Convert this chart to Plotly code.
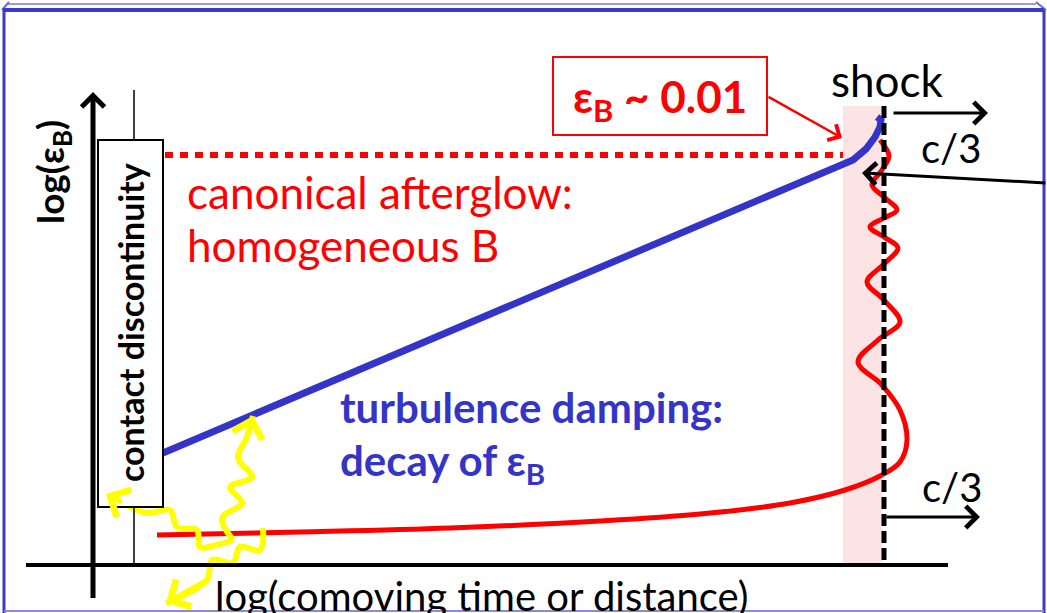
import plotly.graph_objects as go

# schematic coordinates (x to the right, y downwards, 1047 x 613 canvas)
BLUE_X = [163, 853, 866, 875, 880, 881, 877]
BLUE_Y = [453, 160, 149, 137, 127, 120, 117]

RED_X = [157, 300, 450, 600, 700, 790, 845, 880, 900, 907, 900, 882, 858, 878, 900, 884, 867, 884, 898, 884, 870, 884, 897, 884, 872, 882, 889, 880]
RED_Y = [535, 532, 528, 521, 514, 503, 490, 476, 462, 440, 410, 385, 362, 340, 322, 300, 282, 264, 248, 237, 227, 218, 210, 197, 185, 170, 156, 140]

CANON_X = [165, 843]
CANON_Y = [155, 155]

YEL_UP_X = [233, 222, 242, 230, 252, 238, 247, 253]
YEL_UP_Y = [540, 518, 503, 487, 477, 458, 437, 416]
YEL_LEFT_X = [233, 220, 200, 197, 177, 170, 147, 123, 106]
YEL_LEFT_Y = [540, 544, 547, 530, 527, 510, 513, 503, 494]
YEL_DOWN_X = [263, 260, 240, 233, 212, 207, 166]
YEL_DOWN_Y = [528, 550, 547, 563, 560, 580, 603]

FONT = "Lato"
BLUE = "#3434c8"
RED = "#ff0000"

fig = go.Figure()

# pink shock region, dashed shock front
fig.add_shape(type="rect", x0=843, x1=882, y0=106, y1=565, fillcolor="#fce4e4", line_width=0, layer="below")
fig.add_shape(type="line", x0=884, x1=884, y0=106, y1=565, line=dict(color="black", width=5, dash="12px,5px"))

# frame
fig.add_shape(type="line", x0=8, x1=1036, y0=4, y1=4, line=dict(color="#9a9ae6", width=2))
fig.add_shape(type="line", x0=2, x1=9, y0=10, y1=2, line=dict(color="#6a6ad8", width=2))
fig.add_shape(type="line", x0=1036, x1=1046, y0=2, y1=10, line=dict(color="#6a6ad8", width=2))
fig.add_shape(type="line", x0=3, x1=1044, y0=10, y1=10, line=dict(color="#3a3acc", width=4))
fig.add_shape(type="line", x0=4, x1=4, y0=10, y1=613, line=dict(color="#3a3acc", width=3))
fig.add_shape(type="line", x0=1044, x1=1044, y0=10, y1=613, line=dict(color="#3a3acc", width=3))
fig.add_shape(type="line", x0=4, x1=1044, y0=611, y1=611, line=dict(color="#8a8ae0", width=2))

# axes
fig.add_shape(type="line", x0=93, x1=93, y0=96, y1=598, line=dict(color="black", width=5))
fig.add_shape(type="line", x0=26, x1=948, y0=565, y1=565, line=dict(color="black", width=4))
fig.add_shape(type="line", x0=134, x1=134, y0=90, y1=565, line=dict(color="black", width=1.5))
fig.add_shape(type="rect", x0=98, x1=163, y0=140, y1=507, fillcolor="white", line=dict(color="black", width=2))

# canonical level
fig.add_trace(go.Scatter(x=CANON_X, y=CANON_Y, mode="lines", line=dict(color=RED, width=6, dash="8px,7px")))

# red curve
fig.add_trace(go.Scatter(x=RED_X, y=RED_Y, mode="lines", line=dict(color=RED, width=5, shape="spline", smoothing=1.0)))
# blue decay
fig.add_trace(go.Scatter(x=BLUE_X, y=BLUE_Y, mode="lines", line=dict(color=BLUE, width=7)))

# yellow photons
for xs, ys in [(YEL_UP_X, YEL_UP_Y), (YEL_LEFT_X, YEL_LEFT_Y), (YEL_DOWN_X, YEL_DOWN_Y)]:
    fig.add_trace(go.Scatter(x=xs, y=ys, mode="lines", line=dict(color="#ffff00", width=6, shape="spline", smoothing=1.0)))
    fig.add_annotation(x=xs[-1], y=ys[-1], ax=xs[-2], ay=ys[-2], axref="x", ayref="y", xref="x", yref="y",
                       text="", showarrow=True, arrowhead=4, arrowsize=1.2, arrowwidth=5, arrowcolor="#ffff00")


def arrow(x0, y0, x1, y1, color="black", width=3, size=1.4):
    fig.add_annotation(x=x1, y=y1, ax=x0, ay=y0, axref="x", ayref="y", xref="x", yref="y",
                       text="", showarrow=True, arrowhead=4, arrowsize=size, arrowwidth=width, arrowcolor=color)


arrow(26, 565, 22, 565, width=3)
arrow(93, 110, 93, 92, width=4, size=1.1)
arrow(892, 113, 988, 113)
arrow(885, 517, 980, 517)
arrow(1047, 183, 862, 173)
arrow(767, 96, 842, 138, color=RED, width=2.5)

# eps_B box
fig.add_shape(type="rect", x0=553, x1=767, y0=57, y1=135, line=dict(color=RED, width=2), fillcolor="white")


def text(x, y, s, size, color="black", bold=False, xanchor="left", angle=0):
    fig.add_annotation(x=x, y=y, xref="x", yref="y", text=f"<b>{s}</b>" if bold else s, showarrow=False,
                       xanchor=xanchor, yanchor="middle", textangle=angle,
                       font=dict(family=FONT, size=size, color=color))


text(660, 99, "ε<sub>B</sub> ~ 0.01", 44, RED, bold=True, xanchor="center")
text(887, 80, "shock", 44, xanchor="center")
text(951, 148, "c/3", 40, xanchor="center")
text(952, 487, "c/3", 40, xanchor="center")
text(185, 192, "canonical afterglow:", 44, RED)
text(185, 245, "homogeneous B", 44, RED)
text(338, 407, "turbulence damping:", 42, BLUE, bold=True)
text(338, 463, "decay of ε<sub>B</sub>", 42, BLUE, bold=True)
text(52, 172, "log(ε<sub>B</sub>)", 37, bold=True, xanchor="center", angle=-90)
text(130, 323, "contact discontinuity", 34, bold=True, xanchor="center", angle=-90)
text(481, 596, "log(comoving time or distance)", 40, xanchor="center")

fig.update_layout(
    width=1047, height=613,
    margin=dict(l=0, r=0, t=0, b=0),
    paper_bgcolor="white", plot_bgcolor="white",
    showlegend=False,
)
fig.update_xaxes(range=[0, 1047], visible=False, fixedrange=True)
fig.update_yaxes(range=[613, 0], visible=False, fixedrange=True)
fig.write_html("out.html", config={"displayModeBar": False},
               post_script="document.body.style.margin='0';document.body.style.overflow='hidden';")
